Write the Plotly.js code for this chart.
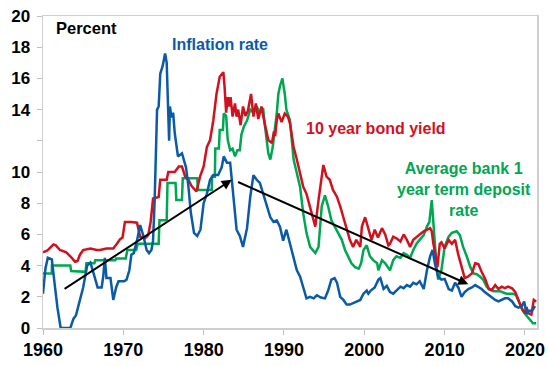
<!DOCTYPE html>
<html>
<head>
<meta charset="utf-8">
<script src="https://cdn.plot.ly/plotly-3.0.1.min.js"></script>
<style>html,body{margin:0;padding:0;background:#fff;}#chart{width:548px;height:366px;}</style>
</head>
<body>
<div id="chart"></div>
<script>
// Inflation rate (blue)
const inflYears = [1960.0,1960.3,1960.6,1961.1,1961.5,1961.8,1962.2,1963.4,1963.8,1964.1,1964.4,1965.0,1965.5,1965.9,1966.3,1966.8,1967.3,1967.5,1967.7,1967.9,1968.4,1968.75,1969.1,1969.4,1970.1,1970.4,1970.75,1971.0,1971.3,1971.7,1972.1,1972.5,1972.9,1973.2,1973.5,1973.7,1973.9,1974.1,1974.2,1974.4,1974.6,1974.9,1975.2,1975.4,1975.6,1975.7,1975.8,1976.0,1976.2,1976.4,1976.8,1977.3,1977.8,1978.1,1978.4,1978.8,1979.2,1979.6,1980.0,1980.4,1980.8,1981.2,1981.8,1982.25,1982.5,1982.9,1983.3,1983.5,1983.7,1984.1,1984.5,1984.9,1985.4,1985.8,1986.2,1986.6,1987.0,1987.4,1987.9,1988.3,1988.7,1989.1,1989.5,1989.9,1990.3,1990.75,1991.2,1991.6,1992.0,1992.4,1992.8,1993.25,1993.7,1994.1,1994.6,1995.1,1995.5,1995.9,1996.3,1996.6,1997.0,1997.4,1997.8,1998.2,1998.6,1999.0,1999.5,1999.9,2000.3,2000.5,2000.8,2001.3,2001.75,2002.0,2002.4,2002.8,2003.2,2003.6,2004.0,2004.5,2004.9,2005.3,2005.7,2006.1,2006.5,2006.9,2007.4,2007.8,2008.2,2008.5,2008.8,2009.2,2009.6,2010.0,2010.5,2010.9,2011.3,2011.7,2012.1,2012.5,2012.95,2013.4,2013.8,2014.2,2014.6,2015.0,2015.5,2015.9,2016.3,2016.7,2017.1,2017.5,2017.9,2018.4,2018.8,2019.2,2019.6,2019.9,2020.2,2020.5,2020.9,2021.25];
const inflValues = [2.2,3.8,4.5,4.4,2.6,1.3,0.0,0.0,0.6,0.8,1.4,2.6,4.0,4.2,3.5,2.6,2.6,3.3,4.5,3.2,3.2,1.8,2.6,3.0,3.0,3.1,3.7,4.7,4.8,5.6,6.6,5.9,5.0,4.8,5.0,5.6,8.2,11.5,14.0,14.2,16.3,16.8,17.6,17.0,14.4,12.0,14.2,13.5,13.8,12.5,11.0,11.2,10.3,9.1,7.4,6.1,5.9,6.3,8.0,8.6,9.5,9.8,9.8,10.3,11.0,10.6,10.6,9.5,8.2,6.3,5.9,5.2,6.4,8.4,9.8,9.5,9.3,8.6,7.8,7.1,6.8,6.9,6.5,5.6,6.3,5.4,4.4,3.7,3.3,2.6,1.9,2.0,1.9,2.1,1.95,1.9,2.4,3.1,3.2,2.9,2.0,1.8,1.5,1.5,1.6,1.7,1.8,2.2,2.4,2.2,2.4,2.6,3.1,3.2,2.5,2.7,2.3,2.2,2.4,2.65,2.55,2.75,2.65,2.9,2.8,3.0,2.5,3.7,4.6,5.0,4.1,3.3,3.1,3.15,2.5,2.4,2.9,2.6,2.0,2.3,2.5,2.6,2.75,2.65,2.5,2.3,2.1,1.9,1.8,1.7,1.8,1.9,1.9,1.7,1.4,1.3,1.4,1.7,0.9,1.1,1.1,1.4];

// 10 year bond yield (red)
const bondYears = [1960.0,1960.5,1961.3,1961.6,1962.1,1962.9,1963.4,1964.0,1964.3,1964.6,1965.0,1965.9,1966.7,1967.1,1967.9,1968.75,1969.2,1969.6,1969.9,1970.2,1971.0,1971.7,1972.1,1972.7,1973.1,1973.4,1973.7,1974.4,1974.6,1975.4,1975.6,1976.4,1976.9,1977.3,1977.7,1978.1,1978.5,1979.1,1979.55,1980.0,1980.4,1980.8,1981.2,1981.6,1982.0,1982.45,1982.6,1982.8,1983.0,1983.2,1983.35,1983.6,1983.9,1984.1,1984.3,1984.6,1984.9,1985.2,1985.5,1985.9,1986.2,1986.5,1986.8,1987.2,1987.6,1988.05,1988.5,1988.75,1988.9,1989.1,1989.3,1989.7,1990.1,1990.5,1990.75,1991.2,1991.6,1992.0,1992.4,1992.8,1993.25,1993.7,1993.9,1994.3,1994.7,1994.9,1995.3,1995.7,1996.1,1996.6,1997.0,1997.4,1997.8,1998.2,1998.6,1999.0,1999.5,1999.7,2000.1,2000.5,2000.9,2001.3,2001.7,2002.2,2002.6,2003.0,2003.2,2003.6,2004.0,2004.5,2004.9,2005.3,2005.7,2006.1,2006.5,2006.9,2007.4,2007.8,2008.2,2008.4,2008.6,2008.9,2009.1,2009.4,2009.6,2010.0,2010.5,2010.9,2011.3,2011.7,2012.1,2012.5,2012.95,2013.4,2013.8,2014.2,2014.6,2015.0,2015.5,2015.9,2016.3,2016.7,2017.1,2017.5,2017.9,2018.4,2018.8,2019.2,2019.6,2020.0,2020.2,2020.4,2020.8,2021.1,2021.4];
const bondValues = [4.85,4.95,5.35,5.3,5.0,4.85,4.6,4.25,4.3,4.7,5.0,5.1,5.0,5.0,5.1,5.1,5.4,5.7,5.8,6.8,6.8,6.75,5.85,5.75,5.95,6.8,8.3,8.4,9.5,9.5,10.0,10.0,10.35,10.35,9.7,9.5,9.1,8.75,9.7,10.35,11.6,12.05,13.3,15.0,16.1,16.4,15.5,13.8,14.8,14.2,14.8,13.55,14.4,13.55,14.0,13.0,14.2,13.6,13.9,15.0,13.55,14.4,13.4,14.2,13.1,12.05,11.85,12.6,12.3,13.3,13.75,13.2,13.75,13.55,13.1,11.6,10.8,9.9,9.05,8.6,7.8,6.9,6.5,8.2,9.9,10.45,9.7,9.5,8.85,8.4,7.8,7.1,6.3,5.65,5.2,5.65,5.2,6.5,7.1,6.3,5.65,6.3,5.8,6.4,6.0,5.3,5.4,5.85,5.75,5.55,6.0,5.65,5.2,5.65,5.85,6.0,6.2,6.3,6.4,6.2,5.4,4.6,3.9,5.4,5.5,5.1,5.65,5.4,5.65,4.7,3.9,3.2,3.3,3.5,4.15,4.1,3.6,3.2,2.5,2.45,2.75,2.5,2.65,2.55,2.65,2.55,2.3,1.8,1.25,0.95,1.35,0.95,0.85,1.8,1.7];

// Average bank 1 year term deposit rate (green)
const depYears = [1960.0,1961.1,1961.1,1963.4,1963.5,1965.3,1965.4,1966.4,1966.5,1969.0,1969.1,1970.3,1970.5,1971.6,1971.8,1974.4,1974.5,1975.4,1975.5,1976.5,1976.6,1977.3,1977.4,1979.2,1979.3,1981.0,1981.05,1981.4,1981.45,1981.9,1982.0,1982.4,1982.5,1982.8,1983.0,1983.3,1983.6,1983.9,1984.2,1984.5,1984.7,1985.0,1985.4,1985.8,1986.2,1986.6,1987.0,1987.4,1987.6,1988.05,1988.3,1988.6,1988.9,1989.1,1989.3,1989.5,1989.8,1990.1,1990.3,1990.75,1991.2,1991.6,1992.0,1992.4,1992.8,1993.25,1993.9,1994.3,1994.7,1995.1,1995.5,1995.9,1996.3,1996.8,1997.2,1997.6,1998.0,1998.4,1998.85,1999.3,1999.6,1999.9,2000.3,2000.7,2001.1,2001.6,2001.75,2002.2,2002.6,2003.0,2003.2,2003.6,2004.0,2004.5,2004.9,2005.3,2005.7,2006.1,2006.5,2006.9,2007.4,2007.8,2008.1,2008.4,2008.6,2008.8,2009.0,2009.2,2009.6,2010.0,2010.5,2010.9,2011.5,2011.9,2012.3,2012.75,2013.2,2013.6,2014.0,2014.4,2014.8,2015.25,2015.6,2016.1,2016.9,2017.7,2018.5,2018.9,2019.3,2019.7,2020.1,2020.6,2021.0,2021.4];
const depValues = [3.5,3.5,4.0,4.0,3.65,3.6,4.15,4.15,4.35,4.35,4.45,4.45,5.0,5.0,5.4,5.4,6.9,6.9,9.3,9.3,8.2,8.2,9.6,9.6,8.85,8.85,9.7,9.7,11.5,11.5,12.7,12.7,13.75,13.6,12.05,11.4,11.5,11.0,11.4,11.4,12.4,12.9,13.3,14.0,13.8,14.2,13.8,14.1,13.1,11.2,10.8,11.6,12.9,13.75,15.0,15.5,16.0,15.0,14.0,13.3,10.8,9.9,9.05,7.35,6.1,5.2,4.8,5.2,7.8,8.5,7.8,6.9,6.5,6.1,5.65,5.0,4.6,4.15,3.9,3.8,4.15,5.0,5.3,4.6,4.35,4.15,3.7,4.35,4.15,3.9,3.7,4.35,4.6,4.5,4.8,4.7,4.5,5.0,5.4,5.65,5.95,6.5,6.8,8.2,6.6,5.2,3.9,3.1,3.7,5.2,5.85,6.1,6.2,5.95,5.2,4.6,3.9,3.5,3.45,3.3,3.1,2.65,2.45,2.35,2.35,2.2,2.2,2.1,1.6,1.15,0.85,0.5,0.3,0.3];

// Trend arrows [startYear, startValue, endYear, endValue]
const arrowUp = [1962.5, 2.45, 1983.5, 9.5];
const arrowDown = [1984.1, 9.4, 2012.95, 2.8];

// Axis ticks
const yTickVals = [0,2,4,6,8,10,12,14,16,18,20];
const yTickText = ["0","2","4","6","8","10","","14","16","18","20"];
const xTickVals = [1960,1970,1980,1990,2000,2010,2020];

const BLUE = '#0b5aa8', RED = '#d0121f', GREEN = '#00a651';
const FONT = 'Liberation Sans, Arial, sans-serif';

const traces = [
  {x: depYears, y: depValues, type: 'scatter', mode: 'lines', line: {color: GREEN, width: 2.5}, hoverinfo: 'skip'},
  {x: bondYears, y: bondValues, type: 'scatter', mode: 'lines', line: {color: RED, width: 2.5}, hoverinfo: 'skip'},
  {x: inflYears, y: inflValues, type: 'scatter', mode: 'lines', line: {color: BLUE, width: 2.5}, hoverinfo: 'skip'}
];

function arrow(a) {
  return {x: a[2], y: a[3], ax: a[0], ay: a[1], xref: 'x', yref: 'y', axref: 'x', ayref: 'y',
    text: '', showarrow: true, arrowhead: 2, arrowsize: 1, arrowwidth: 2, arrowcolor: '#000', standoff: 0, startstandoff: 0};
}

const layout = {
  width: 548, height: 366,
  margin: {l: 43, r: 11, t: 16, b: 38},
  paper_bgcolor: '#fff', plot_bgcolor: '#fff',
  showlegend: false,
  font: {family: FONT, size: 16, color: '#000'},
  xaxis: {
    range: [1960, 2021.5], tickvals: xTickVals, ticks: 'outside', ticklen: 5, tickcolor: '#bfbfbf',
    showgrid: false, zeroline: false, showline: true, linecolor: '#cfcfcf', linewidth: 1.5, mirror: true,
    tickfont: {family: FONT, size: 18, color: '#000', weight: 'bold'}
  },
  yaxis: {
    range: [0, 20], tickvals: yTickVals, ticktext: yTickText, ticks: 'outside', ticklen: 5, tickcolor: '#bfbfbf',
    showgrid: false, zeroline: false, showline: true, linecolor: '#cfcfcf', linewidth: 1.5, mirror: true,
    ticklabelstandoff: 3,
    tickfont: {family: FONT, size: 17, color: '#000', weight: 'bold'}
  },
  annotations: [
    {x: 1961.35, y: 19.25, xref: 'x', yref: 'y', xanchor: 'left', yanchor: 'middle', showarrow: false,
     text: '<b>Percent</b>', font: {family: FONT, size: 16.5, color: '#000'}},
    {x: 1975.8, y: 18.2, xref: 'x', yref: 'y', xanchor: 'left', yanchor: 'middle', showarrow: false,
     text: '<b>Inflation rate</b>', font: {family: FONT, size: 16, color: BLUE}},
    {x: 1992.55, y: 12.8, xref: 'x', yref: 'y', xanchor: 'left', yanchor: 'middle', showarrow: false,
     text: '<b>10 year bond yield</b>', font: {family: FONT, size: 16, color: RED}},
    {x: 2012.45, y: 8.9, xref: 'x', yref: 'y', xanchor: 'center', yanchor: 'middle', align: 'center', showarrow: false,
     text: '<b>Average bank 1<br>year term deposit<br>rate</b>', font: {family: FONT, size: 16, color: GREEN}},
    arrow(arrowUp), arrow(arrowDown)
  ]
};

Plotly.newPlot('chart', traces, layout, {staticPlot: true, displayModeBar: false});
</script>
</body>
</html>
